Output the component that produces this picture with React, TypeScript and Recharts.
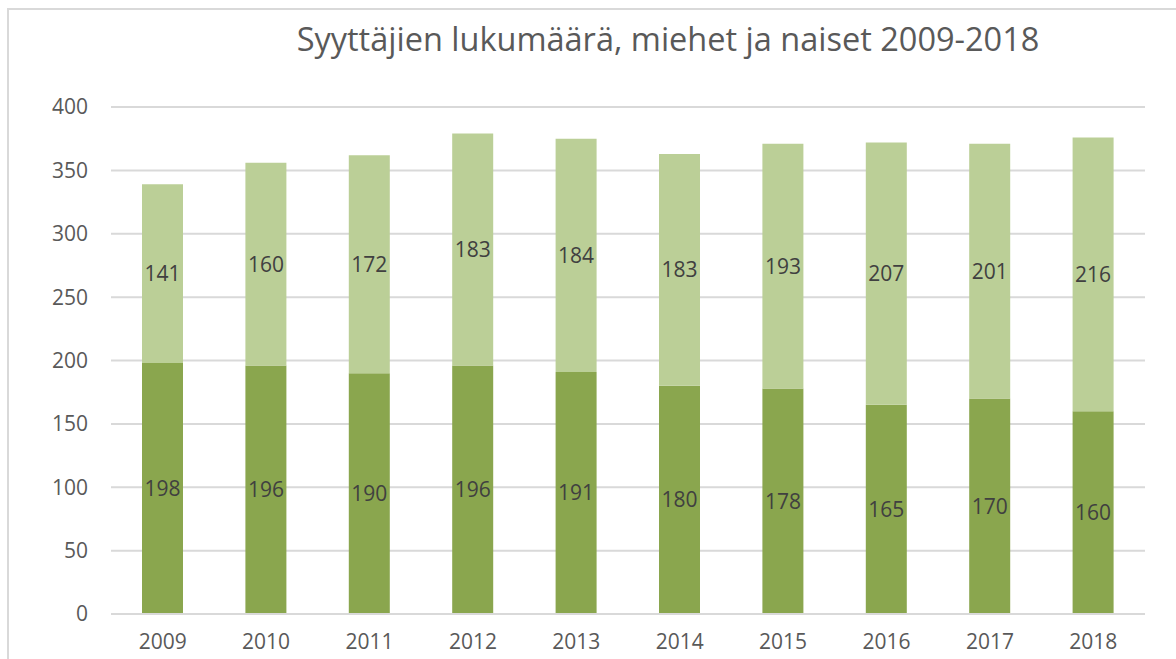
import React from 'react';
import { BarChart, Bar, XAxis, YAxis, CartesianGrid, LabelList } from 'recharts';

const years = ['2009', '2010', '2011', '2012', '2013', '2014', '2015', '2016', '2017', '2018'];
const miehet = [198, 196, 190, 196, 191, 180, 178, 165, 170, 160];
const naiset = [141, 160, 172, 183, 184, 183, 193, 207, 201, 216];
const yTicks = [0, 50, 100, 150, 200, 250, 300, 350, 400];

const data = years.map((year, i) => ({ year, miehet: miehet[i], naiset: naiset[i] }));

const font = "'Open Sans', 'Liberation Sans', sans-serif";

export default function App() {
    return (
        <div style={{ position: 'absolute', left: 0, top: 0, width: 1176, height: 659, background: '#fff', overflow: 'hidden', fontFamily: font }}>
            <div style={{ position: 'absolute', left: 7, top: 8, width: 1200, height: 700, border: '2px solid #d9d9d9' }} />
            <div style={{ position: 'absolute', left: 0, width: 1176, top: 16, textAlign: 'center', paddingLeft: 160, boxSizing: 'border-box', fontSize: 32.5, color: '#595959' }}>
                Syyttäjien lukumäärä, miehet ja naiset 2009-2018
            </div>
            <div style={{ position: 'absolute', left: 0, top: 0 }}>
                <BarChart width={1176} height={659} data={data} margin={{ top: 107, right: 31, left: 0, bottom: 15 }}>
                    <CartesianGrid vertical={false} stroke="#d9d9d9" strokeWidth={2} />
                    <XAxis
                        dataKey="year"
                        height={30}
                        axisLine={{ stroke: '#d9d9d9', strokeWidth: 2 }}
                        tickLine={false}
                        tickSize={0}
                        tickMargin={20}
                        tick={{ fill: '#595959', fontSize: 21, fontFamily: font }}
                    />
                    <YAxis
                        width={111}
                        domain={[0, 400]}
                        ticks={yTicks}
                        axisLine={false}
                        tickLine={false}
                        tickSize={0}
                        tickMargin={23}
                        tick={{ fill: '#595959', fontSize: 21, fontFamily: font }}
                    />
                    <Bar dataKey="miehet" stackId="a" fill="#8aa64e" barSize={41} isAnimationActive={false}>
                        <LabelList dataKey="miehet" position="center" fill="#404040" fontSize={21} fontFamily={font} />
                    </Bar>
                    <Bar dataKey="naiset" stackId="a" fill="#bbcf97" barSize={41} isAnimationActive={false}>
                        <LabelList dataKey="naiset" position="center" fill="#404040" fontSize={21} fontFamily={font} />
                    </Bar>
                </BarChart>
            </div>
        </div>
    );
}
